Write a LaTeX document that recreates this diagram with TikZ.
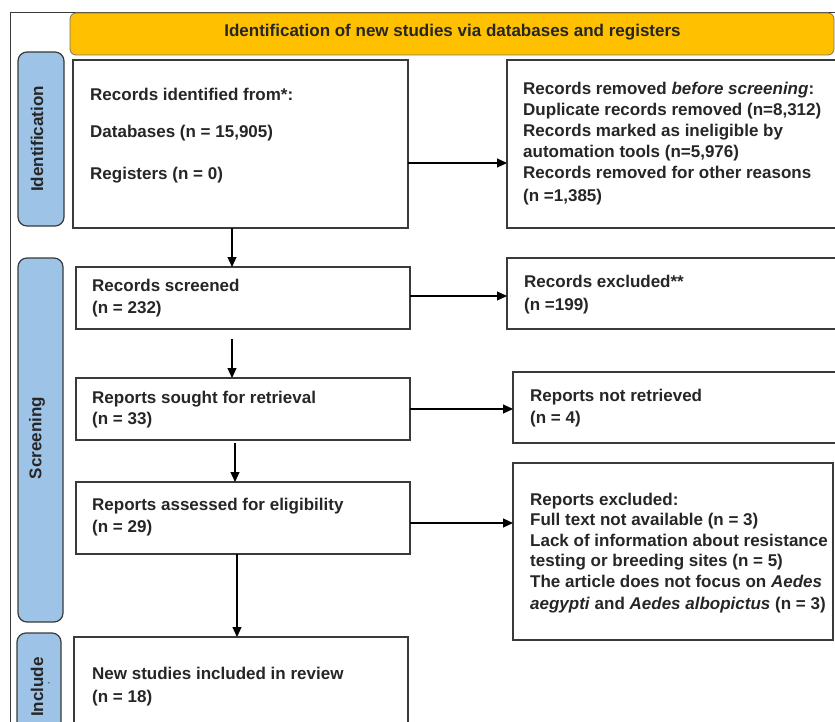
\documentclass[tikz,border=0pt]{standalone}
\usepackage{fontspec}
\setmainfont{Liberation Sans}
\usetikzlibrary{arrows.meta}
\definecolor{hdrY}{HTML}{FFC000}
\definecolor{labB}{HTML}{9DC3E6}
\definecolor{edgeC}{HTML}{3A3A3A}
\begin{document}
\begin{tikzpicture}[x=1pt,y=-1pt,
  box/.style={draw=edgeC, line width=1.2pt, fill=white, inner sep=0pt, outer sep=0pt},
  lab/.style={draw=edgeC, line width=1.2pt, fill=labB, rounded corners=9pt, inner sep=0pt, outer sep=0pt},
  hdr/.style={draw=edgeC!70, line width=0.8pt, fill=hdrY, rounded corners=6pt, inner sep=0pt, outer sep=0pt},
  txt/.style={anchor=base west, inner sep=0pt, font=\fontsize{17}{20}\selectfont\bfseries, text=black!85},
  ltxt/.style={rotate=90, inner sep=0pt, font=\fontsize{17}{20}\selectfont\bfseries, text=black!85},
  arr/.style={line width=1.2pt, -{Triangle[length=10pt,width=9pt]}}]
\useasboundingbox (0,0) rectangle (835,722);
\fill[white] (0,0) rectangle (835,722);
% outer frame
\draw[edgeC, line width=1pt] (10,730) -- (10,13) -- (840,13);
% header
\node[hdr, minimum width=764pt, minimum height=42pt] (hdr) at (452,34) {};
\node[anchor=base, inner sep=0pt, font=\fontsize{17}{20}\selectfont\bfseries, text=black!85] (hdrt) at (452.5,37) {Identification of new studies via databases and registers};
% side labels
\node[lab, minimum width=46pt, minimum height=174pt] (idl) at (41,139) {};
\node[ltxt] (idt) at (37,139) {Identification};
\node[lab, minimum width=45pt, minimum height=364pt] (scl) at (40.5,440) {};
\node[ltxt] (sct) at (37,438) {Screening};
\node[lab, minimum width=44pt, minimum height=107pt] (inl) at (39,686.5) {};
\node[ltxt] (int) at (37,687) {Include};
\node[rotate=90, inner sep=0pt, font=\fontsize{9}{9}\selectfont\bfseries, text=black!70] (indot) at (49,683) {.};
% boxes
\node[box, minimum width=335pt, minimum height=168pt] (b1) at (240.5,144) {};
\node[box, minimum width=343pt, minimum height=168pt] (b2) at (678.5,144) {};
\node[box, minimum width=334pt, minimum height=62pt] (b3) at (243,298) {};
\node[box, minimum width=334pt, minimum height=62pt] (b4) at (243,409) {};
\node[box, minimum width=334pt, minimum height=72pt] (b5) at (243,518) {};
\node[box, minimum width=334pt, minimum height=123pt] (b6) at (241,698.5) {};
\node[box, minimum width=343pt, minimum height=71pt] (b7) at (678.5,293.5) {};
\node[box, minimum width=337pt, minimum height=71pt] (b8) at (681.5,407.5) {};
\node[box, minimum width=320pt, minimum height=177pt] (b9) at (673,551.5) {};
% texts
\node[txt] (t1a) at (90,101) {Records identified from*:};
\node[txt] (t1b) at (90,138) {Databases (n = 15,905)};
\node[txt] (t1c) at (90,180) {Registers (n = 0)};
\node[txt] (t2a) at (523,95) {Records removed \textit{before screening}:};
\node[txt] (t2b) at (523,116) {Duplicate records removed (n=8,312)};
\node[txt] (t2c) at (523,137) {Records marked as ineligible by};
\node[txt] (t2d) at (523,158) {automation tools (n=5,976)};
\node[txt] (t2e) at (523,179) {Records removed for other reasons};
\node[txt] (t2f) at (523,201) {(n =1,385)};
\node[txt] (t3a) at (92,291) {Records screened};
\node[txt] (t3b) at (92,313) {(n = 232)};
\node[txt] (t4a) at (92,403) {Reports sought for retrieval};
\node[txt] (t4b) at (92,424) {(n = 33)};
\node[txt] (t5a) at (92,510) {Reports assessed for eligibility};
\node[txt] (t5b) at (92,532) {(n = 29)};
\node[txt] (t6a) at (92,679) {New studies included in review};
\node[txt] (t6b) at (92,702) {(n = 18)};
\node[txt] (t7a) at (524,287) {Records excluded**};
\node[txt] (t7b) at (524,310) {(n =199)};
\node[txt] (t8a) at (530,401) {Reports not retrieved};
\node[txt] (t8b) at (530,423) {(n = 4)};
\node[txt] (t9a) at (530,505) {Reports excluded:};
\node[txt] (t9b) at (530,525.5) {Full text not available (n = 3)};
\node[txt] (t9c) at (530,546) {Lack of information about resistance};
\node[txt] (t9d) at (530,566) {testing or breeding sites (n = 5)};
\node[txt] (t9e) at (530,587) {The article does not focus on \textit{Aedes}};
\node[txt] (t9f) at (530,609) {\textit{aegypti} and \textit{Aedes albopictus} (n = 3)};
% helper coordinates
\coordinate (y12) at (0,163);
\coordinate (y37) at (0,296);
\coordinate (y48) at (0,409);
\coordinate (y59) at (0,523);
\coordinate (x13) at (232,0);
\coordinate (s34) at (232,339);
\coordinate (s45) at (235,443);
\coordinate (x56) at (237,0);
% connectors
\draw[arr] (b1.east |- y12) -- (b2.west |- y12);
\draw[arr] (x13 |- b1.south) -- (x13 |- b3.north);
\draw[arr] (s34) -- (s34 |- b4.north);
\draw[arr] (s45) -- (s45 |- b5.north);
\draw[arr] (x56 |- b5.south) -- (x56 |- b6.north);
\draw[arr] (b3.east |- y37) -- (b7.west |- y37);
\draw[arr] (b4.east |- y48) -- (b8.west |- y48);
\draw[arr] (b5.east |- y59) -- (b9.west |- y59);
\end{tikzpicture}
\end{document}
